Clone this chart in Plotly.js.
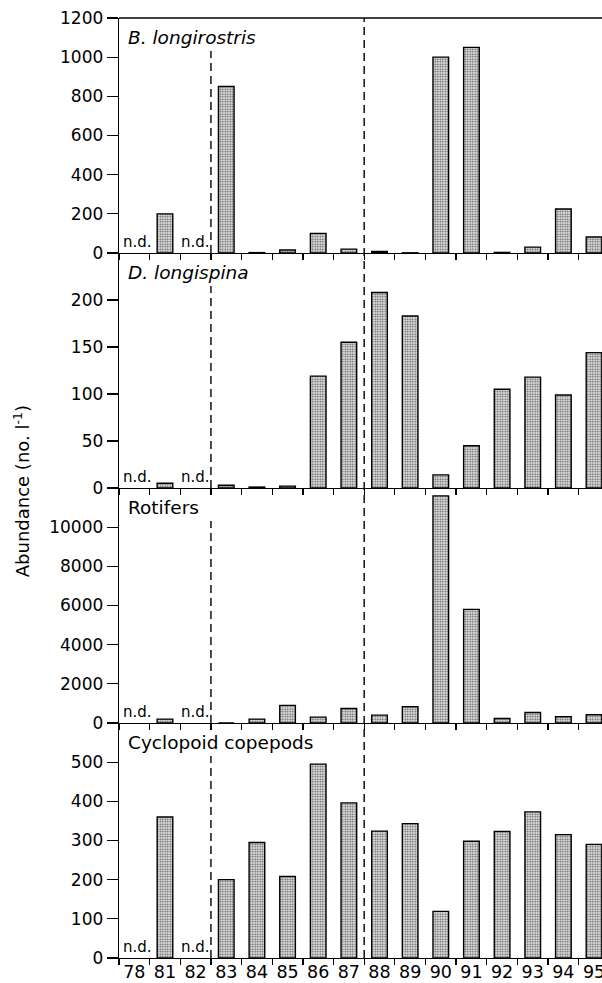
<!DOCTYPE html>
<html>
<head>
<meta charset="utf-8">
<script src="https://cdn.plot.ly/plotly-3.0.1.min.js"></script>
<style>html,body{margin:0;padding:0;background:#fff;overflow:hidden}#chart{width:602px;height:983px}</style>
</head>
<body>
<div id="chart"></div>
<script>
// Data
const years = ['78','81','82','83','84','85','86','87','88','89','90','91','92','93','94','95'];
const bosmina    = [null, 200, null, 850, 2, 15, 100, 20, 8, 1, 1000, 1050, 3, 30, 225, 82];
const daphnia    = [null, 5, null, 3, 1, 2, 119, 155, 208, 183, 14, 45, 105, 118, 99, 144];
const rotifers   = [null, 200, null, 0, 200, 900, 300, 740, 400, 830, 11600, 5800, 230, 540, 320, 420];
const cyclopoids = [null, 360, null, 200, 295, 208, 495, 396, 324, 343, 119, 298, 323, 373, 315, 290];
const panelTitles = ['<i>B. longirostris</i>', '<i>D. longispina</i>', 'Rotifers', 'Cyclopoid copepods'];
const yTicks = [
  [0, 200, 400, 600, 800, 1000, 1200],
  [0, 50, 100, 150, 200],
  [0, 2000, 4000, 6000, 8000, 10000],
  [0, 100, 200, 300, 400, 500]
];
const yMax = [1200, 250, 12000, 600];
const ndYears = ['78', '82'];
const yTitle = 'Abundance (no. l<sup>-1</sup>)';

const series = [bosmina, daphnia, rotifers, cyclopoids];
const FONT = 'DejaVu Sans';
const domains = [[0.75, 1], [0.5, 0.75], [0.25, 0.5], [0, 0.25]];

const traces = [];
const layout = {
  width: 602, height: 983,
  margin: {l: 119, r: 0, t: 18, b: 25},
  paper_bgcolor: '#fff', plot_bgcolor: '#fff',
  showlegend: false,
  bargap: 0.49,
  font: {family: FONT, size: 17, color: '#000'},
  shapes: [], annotations: []
};

series.forEach((vals, i) => {
  const n = i + 1;
  const xa = n === 1 ? 'x' : 'x' + n;
  const ya = n === 1 ? 'y' : 'y' + n;
  const xk = n === 1 ? 'xaxis' : 'xaxis' + n;
  const yk = n === 1 ? 'yaxis' : 'yaxis' + n;
  traces.push({
    type: 'bar', x: years, y: vals, xaxis: xa, yaxis: ya,
    marker: {
      color: '#d0d0d0',
      line: {color: '#000', width: 1.4},
      pattern: {shape: '.', size: 2.5, solidity: 0.4, fgcolor: '#555', bgcolor: '#e4e4e4', fillmode: 'replace'}
    },
    hoverinfo: 'skip'
  });
  layout[xk] = {
    type: 'category', anchor: ya, domain: [0, 1],
    range: [-0.5, 15.26],
    showline: true, linecolor: '#000', linewidth: 1.3,
    ticks: 'outside', tickson: 'boundaries', ticklen: 6, tickwidth: 1.3, tickcolor: '#000',
    showticklabels: n === 4, tickangle: 0, ticklabelstandoff: -2,
    tickfont: {family: FONT, size: 17.5, color: '#000'},
    showgrid: false, zeroline: false, fixedrange: true
  };
  if (n > 1) layout[xk].matches = 'x';
  layout[yk] = {
    anchor: xa, domain: domains[i],
    range: [0, yMax[i]],
    tickvals: yTicks[i], ticktext: yTicks[i].map(String),
    showline: true, linecolor: '#000', linewidth: 1.3,
    ticks: 'outside', ticklen: 11, tickwidth: 1.3, tickcolor: '#000',
    tickfont: {family: FONT, size: 17, color: '#000'},
    showgrid: false, zeroline: false, fixedrange: true
  };
  // dashed line between 82 and 83 (stops below the panel title)
  layout.shapes.push({
    type: 'line', xref: xa, yref: ya + ' domain',
    x0: 2.5, x1: 2.5, y0: 0, y1: 0.86,
    line: {color: '#000', width: 1.4, dash: '8px,5px'}
  });
  // panel title
  layout.annotations.push({
    text: panelTitles[i], xref: xa + ' domain', yref: ya + ' domain',
    x: 0.0145, y: 0.918, xanchor: 'left', yanchor: 'middle',
    showarrow: false, font: {family: FONT, size: 18.5, color: '#000'}
  });
  // n.d. labels (positioned by category index)
  ndYears.forEach((yr, j) => {
    layout.annotations.push({
      text: 'n.d.', xref: xa, yref: ya + ' domain',
      x: years.indexOf(yr), y: 0, xanchor: 'center', yanchor: 'bottom',
      xshift: j === 0 ? 3 : 0, yshift: 0,
      showarrow: false, font: {family: FONT, size: 15, color: '#000'}
    });
  });
});

// dashed line between 87 and 88 spanning all panels
layout.shapes.push({
  type: 'line', xref: 'x', yref: 'paper',
  x0: 7.5, x1: 7.5, y0: 0, y1: 1,
  line: {color: '#000', width: 1.4, dash: '8px,5px'}
});
// top frame line of the upper panel
layout.shapes.push({
  type: 'line', xref: 'paper', yref: 'paper',
  x0: 0, x1: 1, y0: 1, y1: 1,
  line: {color: '#000', width: 1.3}
});
// shared y axis title
layout.annotations.push({
  text: yTitle, xref: 'paper', yref: 'paper',
  x: -0.202, y: 0.497, xanchor: 'center', yanchor: 'middle',
  textangle: -90, showarrow: false,
  font: {family: FONT, size: 18, color: '#000'}
});

Plotly.newPlot('chart', traces, layout, {displayModeBar: false, staticPlot: true});
</script>
</body>
</html>
